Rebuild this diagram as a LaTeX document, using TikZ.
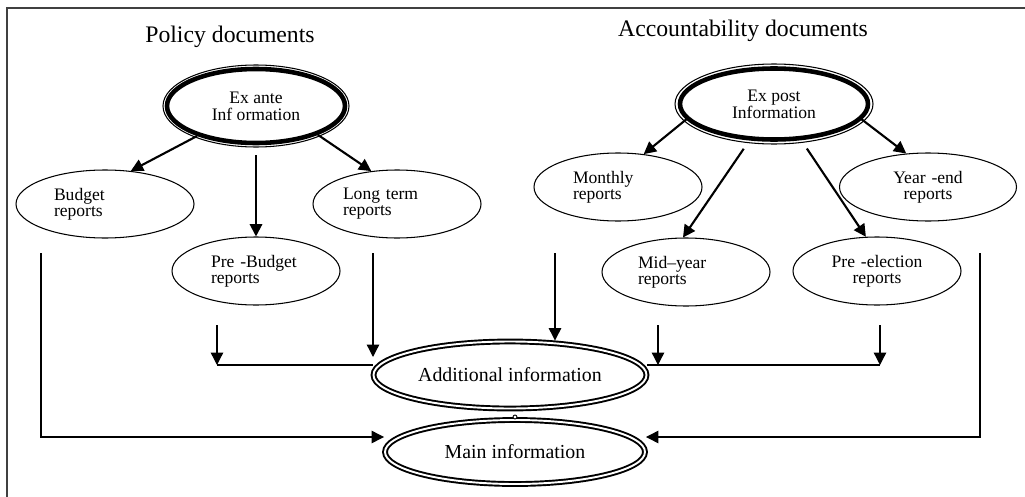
\documentclass[tikz,border=0pt]{standalone}
\usepackage{fontspec}
\setmainfont{Liberation Serif}
\usetikzlibrary{shapes.geometric,arrows.meta}

% one unit of the picture
\newcommand{\pu}{0.02cm}

\tikzset{
  ttl/.style={inner sep=0pt, font=\fontsize{13.5}{16}\selectfont},
  src/.style={ellipse, draw, line width=2.6pt, inner sep=0pt, align=center,
    font=\fontsize{10}{9.6}\selectfont},
  rep/.style={ellipse, draw, line width=0.6pt, inner sep=0pt, align=left,
    text width=100*\pu, minimum width=168*\pu, minimum height=68*\pu,
    font=\fontsize{10}{9.2}\selectfont},
  info/.style={ellipse, draw, double, line width=1.1pt, double distance=1.1pt,
    inner sep=0pt, font=\fontsize{11.3}{13}\selectfont},
  bigarrow/.style={line width=1.2pt, -{Triangle[length=7pt,width=7pt]}},
  thinarrow/.style={line width=0.75pt, -{Triangle[length=7pt,width=7pt]}}
}

\begin{document}
\begin{tikzpicture}[x=0.02cm, y=-0.02cm]
\useasboundingbox (0,0) rectangle (1025,497);

% frame
\draw [black!75, line width=0.6pt] (7,497) -- (7,8) -- (1025,8);

% titles
\node [ttl] (poltitle) at (230,37) {Policy documents};
\node [ttl] (acctitle) at (743,31) {Accountability documents};

% main sources
\node [src, minimum width=178*\pu, minimum height=74*\pu] (exante) at (256,106) {Ex ante\\Inf ormation};
\draw [line width=0.6pt] (exante.center) ellipse [x radius=93, y radius=41];
\node [src, minimum width=188*\pu, minimum height=71*\pu] (expost) at (774,104) {Ex post\\Information};
\draw [line width=0.6pt] (expost.center) ellipse [x radius=99, y radius=40];

% reports
\node [rep, minimum width=178*\pu, text width=102*\pu] (budget) at (105,204) {Budget\\reports};
\node [rep, text width=108*\pu] (longterm) at (397,204) {Long term\\reports};
\node [rep, text width=90*\pu] (prebudget) at (256,271) {Pre -Budget\\reports};
\node [rep, text width=90*\pu] (monthly) at (618,187) {Monthly\\reports};
\node [rep, minimum width=177*\pu, align=center] (yearend) at (928,187) {Year -end\\reports};
\node [rep, minimum width=168*\pu, text width=96*\pu] (midyear) at (686,272) {Mid--year\\reports};
\node [rep, align=center] (preelect) at (877,271) {Pre -election\\reports};

% information
\node [info, minimum width=273*\pu, minimum height=67*\pu] (addl) at (510,375) {Additional information};
\node [info, minimum width=260*\pu, minimum height=64*\pu] (main) at (515,452) {Main information};
\draw [fill=white, line width=0.5pt] (515,417) circle (2);

% free ends of the connectors
\coordinate (bsrc) at (41,253);
\coordinate (ltsrc) at (373,253);
\coordinate (pbsrc) at (217,325);
\coordinate (pbjoin) at (217,365);
\coordinate (mosrc) at (555,253);
\coordinate (mysrc) at (658,325);
\coordinate (myjoin) at (658,365);
\coordinate (pesrc) at (880,325);
\coordinate (pejoin) at (880,365);
\coordinate (yesrc) at (980,253);

% ex ante
\draw [bigarrow] (exante.207) -- (budget.52);
\draw [bigarrow, shorten <=0.2cm] (exante.south) -- (prebudget.north);
\draw [bigarrow] (exante.335) -- (longterm.128);

% ex post
\draw [bigarrow] (expost.190) -- (monthly.52);
\draw [bigarrow, shorten <=0.2cm] (expost.236) -- (midyear.95);
\draw [bigarrow, shorten <=0.2cm] (expost.307) -- (preelect.108);
\draw [bigarrow] (expost.350) -- (yearend.123);

% into additional information
\draw [thinarrow] (ltsrc) -- (ltsrc |- 0,357);
\draw [thinarrow] (pbsrc) -- (pbjoin);
\draw [line width=0.75pt] (pbjoin) -- (addl.west |- pbjoin);
\draw [thinarrow] (mosrc) -- (mosrc |- addl.north);
\draw [thinarrow] (mysrc) -- (myjoin);
\draw [thinarrow] (pesrc) -- (pejoin);
\draw [line width=0.75pt] (addl.east |- myjoin) -- (pejoin);

% into main information
\draw [thinarrow] (bsrc) |- ([yshift=0.3cm]main.west);
\draw [thinarrow] (yesrc) |- ([yshift=0.3cm]main.east);
\end{tikzpicture}
\end{document}
